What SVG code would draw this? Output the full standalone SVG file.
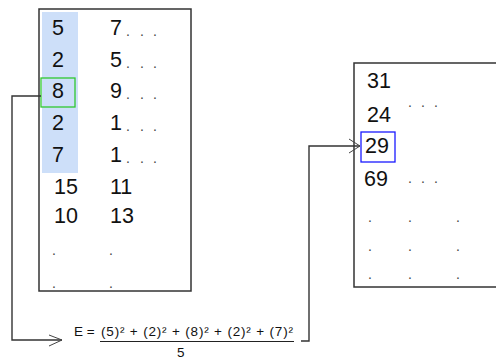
<svg xmlns="http://www.w3.org/2000/svg" width="496" height="360" viewBox="0 0 496 360">
<defs>
<style>
.frame{fill:#fff;stroke:#333;stroke-width:1.5}
.num{font-family:"Liberation Sans",Arial,sans-serif;font-size:21.5px;fill:#111}
.dot{font-family:"Liberation Sans",Arial,sans-serif;font-size:14px;fill:#444}
.f{font-family:"Liberation Sans",Arial,sans-serif;font-size:13.5px;fill:#111}
.conn{fill:none;stroke:#333;stroke-width:1.4}
.head{fill:none;stroke:#444;stroke-width:1}
</style>
</defs>
<rect width="496" height="360" fill="#fff"/>
<g id="left-table">
<rect class="frame" x="39" y="9" width="152" height="282"/>
<rect x="42" y="12" width="36" height="161" fill="#cddff9"/>
<rect x="41" y="78" width="34" height="29" fill="none" stroke="#2ec82e" stroke-width="1.3"/>
<text class="num" x="52" y="35">5</text>
<text class="num" x="52" y="67">2</text>
<text class="num" x="52" y="98">8</text>
<text class="num" x="52" y="130">2</text>
<text class="num" x="52" y="162">7</text>
<text class="num" x="54" y="194">15</text>
<text class="num" x="54" y="223">10</text>
<text class="dot" x="52" y="255">.</text>
<text class="dot" x="52" y="288">.</text>
<text class="num" x="110" y="35">7</text>
<text class="num" x="110" y="67">5</text>
<text class="num" x="110" y="98">9</text>
<text class="num" x="110" y="130">1</text>
<text class="num" x="110" y="162">1</text>
<text class="num" x="110" y="194">11</text>
<text class="num" x="110" y="223">13</text>
<text class="dot" x="109" y="255">.</text>
<text class="dot" x="109" y="288">.</text>
<text class="dot" x="126 140 153" y="36">...</text>
<text class="dot" x="126 140 153" y="68">...</text>
<text class="dot" x="126 140 153" y="99">...</text>
<text class="dot" x="126 140 153" y="131">...</text>
<text class="dot" x="126 140 153" y="163">...</text>
</g>
<g id="right-table">
<rect class="frame" x="354" y="63" width="150" height="224"/>
<rect x="361" y="132" width="34" height="30" fill="none" stroke="#1a1aff" stroke-width="1.3"/>
<text class="num" x="367" y="88">31</text>
<text class="num" x="367" y="122">24</text>
<text class="num" x="365" y="153">29</text>
<text class="num" x="364" y="186">69</text>
<text class="dot" x="408 421 434" y="107">...</text>
<text class="dot" x="408 421 434" y="183">...</text>
<text class="dot" x="368 408 456" y="222">...</text>
<text class="dot" x="368 408 456" y="251">...</text>
<text class="dot" x="368 408 456" y="279">...</text>
</g>
<g id="formula">
<text class="f" x="74" y="336">E =</text>
<text class="f" x="101" y="336" textLength="192" lengthAdjust="spacing">(5)² + (2)² + (8)² + (2)² + (7)²</text>
<line x1="100" y1="341.5" x2="294" y2="341.5" stroke="#222" stroke-width="1"/>
<text class="f" x="177" y="357">5</text>
</g>
<g id="connectors">
<polyline class="conn" points="41,96 12,96 12,340 62,340"/>
<polyline class="head" points="49,335 62,340 49,346"/>
<polyline class="conn" points="301,341 309,341 309,146 360,146"/>
<polyline class="head" points="349,139 360,146 349,153"/>
</g>
</svg>
